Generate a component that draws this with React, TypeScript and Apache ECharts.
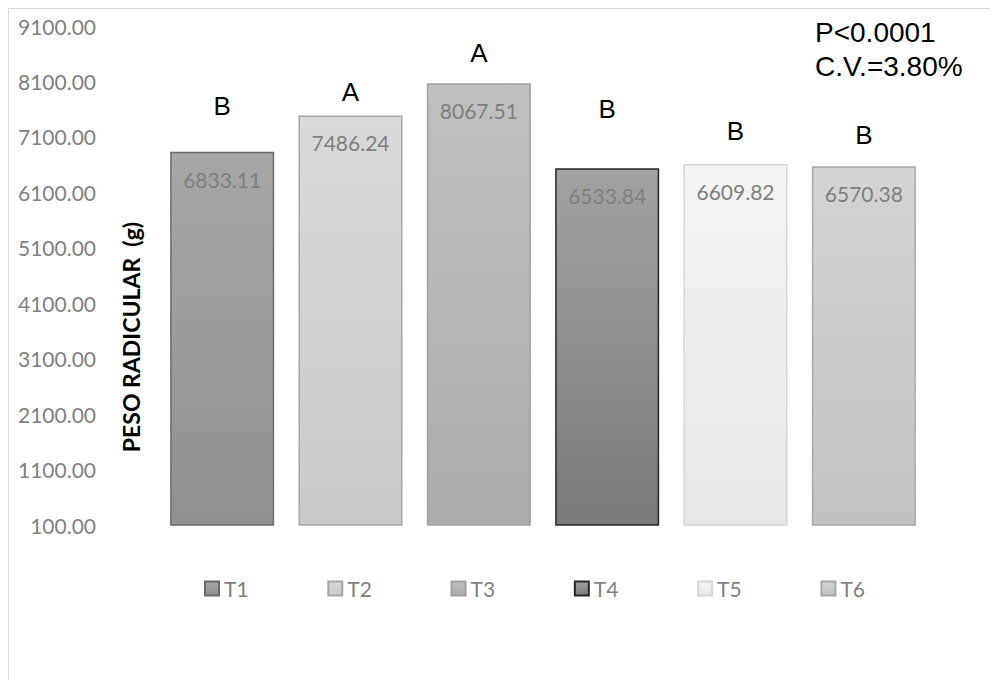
import { useEffect, useRef } from "react";
import * as echarts from "echarts";

// Treatments and mean root weight (g)
const treatments = ["T1", "T2", "T3", "T4", "T5", "T6"];
const pesoRadicular = [6833.11, 7486.24, 8067.51, 6533.84, 6609.82, 6570.38];
// Tukey grouping letters
const tukeyGroups = ["B", "A", "A", "B", "B", "B"];
// Y axis: first tick, last tick, step
const yMin = 100;
const yMax = 9100;
const yStep = 1000;
// Statistics shown in the corner
const statsLines = ["P<0.0001", "C.V.=3.80%"];
const yTitle = "PESO RADICULAR\u00a0\u00a0(g)";

// Styling per treatment: gradient top, gradient bottom, border
const fillTop = ["#a7a7a7", "#d9d9d9", "#c0c0c0", "#a2a2a2", "#f4f4f4", "#d4d4d4"];
const fillBottom = ["#909090", "#cacaca", "#acacac", "#7a7a7a", "#e7e7e7", "#c2c2c2"];
const borderColors = ["#6b6b6b", "#a6a6a6", "#a0a0a0", "#262626", "#d6d6d6", "#a8a8a8"];
// Distance (px) between bar top and its grouping letter
const letterGap = [33, 10, 17, 46, 20, 18];

const GREY = "#7f7f7f";
const LABEL_FONT = "Lato, Calibri, sans-serif";
const LETTER_FONT = "'Liberation Sans', Arial, sans-serif";

export default function App() {
  const ref = useRef<HTMLDivElement>(null);

  useEffect(() => {
    if (!ref.current) return;
    const chart = echarts.init(ref.current, undefined, { renderer: "svg" });

    const series = treatments.map((t, i) => ({
      name: t,
      type: "bar",
      barWidth: 104,
      barGap: "-100%",
      data: treatments.map((_, j) => (j === i ? pesoRadicular[i] : null)),
      itemStyle: {
        color: {
          type: "linear",
          x: 0,
          y: 0,
          x2: 0,
          y2: 1,
          colorStops: [
            { offset: 0, color: fillTop[i] },
            { offset: 1, color: fillBottom[i] },
          ],
        },
        borderColor: borderColors[i],
        borderWidth: 1.5,
      },
      label: {
        show: true,
        position: "insideTop",
        distance: 17,
        formatter: (p: any) => Number(p.value).toFixed(2),
        color: GREY,
        fontFamily: LABEL_FONT,
        fontSize: 21,
      },
      markPoint: {
        symbol: "circle",
        symbolSize: 0,
        silent: true,
        data: [{ coord: [t, pesoRadicular[i]] }],
        label: {
          show: true,
          position: "top",
          distance: letterGap[i],
          formatter: tukeyGroups[i],
          color: "#000000",
          fontFamily: LETTER_FONT,
          fontSize: 26,
        },
      },
    }));

    chart.setOption({
      animation: false,
      backgroundColor: "#ffffff",
      grid: { left: 149, right: 70, top: 17, bottom: 155, outerBoundsMode: "none", containLabel: false },
      legend: {
        data: treatments,
        left: 190,
        top: 564,
        itemWidth: 14,
        itemHeight: 14,
        itemGap: 78.7,
        icon: "rect",
        textStyle: { color: GREY, fontFamily: LABEL_FONT, fontSize: 21 },
      },
      xAxis: {
        type: "category",
        data: treatments,
        axisLine: { show: false },
        axisTick: { show: false },
        axisLabel: { show: false },
      },
      yAxis: {
        type: "value",
        min: yMin,
        max: yMax,
        interval: yStep,
        axisLine: { show: false },
        axisTick: { show: false },
        splitLine: { show: false },
        axisLabel: {
          margin: 62,
          color: GREY,
          fontFamily: LABEL_FONT,
          fontSize: 21,
          formatter: (v: number) => v.toFixed(2),
        },
      },
      graphic: [
        {
          type: "text",
          x: 122,
          y: 328,
          rotation: Math.PI / 2,
          style: {
            text: yTitle,
            fill: "#000000",
            font: `bold 23px ${LABEL_FONT}`,
            align: "center",
            verticalAlign: "middle",
          },
        },
        ...statsLines.map((line, k) => ({
          type: "text",
          left: 806,
          top: 9 + k * 34,
          style: {
            text: line,
            fill: "#000000",
            font: `28px ${LETTER_FONT}`,
          },
        })),
      ],
      series,
    });

    return () => chart.dispose();
  }, []);

  return (
    <div
      ref={ref}
      style={{
        width: 989,
        height: 671,
        borderLeft: "1px solid #d9d9d9",
        borderTop: "1px solid #d9d9d9",
      }}
    />
  );
}
